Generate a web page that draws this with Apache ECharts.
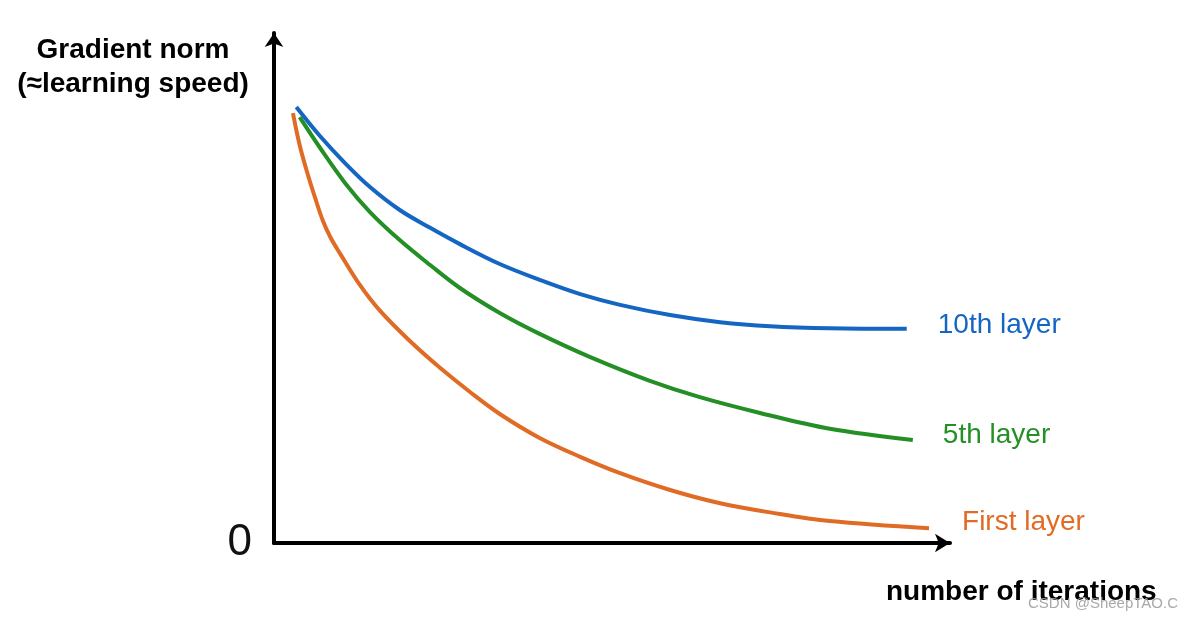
<!DOCTYPE html>
<html>
<head>
<meta charset="utf-8">
<script src="https://cdn.jsdelivr.net/npm/echarts@6/dist/echarts.min.js"></script>
<style>
html,body{margin:0;padding:0;background:#fff;}
#chart{width:1192px;height:622px;}
</style>
</head>
<body>
<div id="chart"></div>
<script>
// ---- data (arbitrary units 0..100) ----
var seriesNames = ['10th layer', '5th layer', 'First layer'];

var tenthX = [3.3, 6.8, 10.5, 14.2, 18.6, 23.1, 27.5, 33.4, 39.3, 45.3, 51.2, 58.6, 66.0, 73.4, 82.2, 93.6];
var tenthY = [85.5, 79.8, 74.5, 69.8, 65.3, 61.8, 58.6, 54.7, 51.6, 48.8, 46.7, 44.7, 43.3, 42.5, 42.1, 42.0];

var fifthX = [3.8, 6.8, 10.5, 14.2, 18.6, 23.1, 27.5, 33.4, 39.3, 46.7, 55.6, 63.0, 71.9, 82.2, 94.5];
var fifthY = [83.5, 77.5, 70.6, 64.9, 59.4, 54.5, 50.0, 45.1, 41.0, 36.5, 31.8, 28.6, 25.5, 22.4, 20.2];

var firstX = [2.8, 3.8, 4.9, 6.1, 7.2, 8.4, 9.8, 12.7, 15.7, 20.1, 24.6, 29.0, 33.4, 39.3, 45.3, 51.2, 58.6, 66.0, 73.4, 82.2, 96.9];
var firstY = [84.3, 78.0, 72.7, 67.6, 63.3, 59.8, 56.7, 50.6, 45.5, 39.6, 34.3, 29.6, 25.3, 20.6, 16.9, 13.7, 10.4, 7.8, 6.0, 4.3, 2.9];

var yTickLabels = ['0'];
var yAxisTitle = 'Gradient norm\n(\u2248learning speed)';
var xAxisTitle = 'number of iterations';
var watermark = 'CSDN @SheepTAO.C';

// ---- styles ----
var colors = ['#1565c2', '#238f25', '#e06b25'];
var FONT = '"Liberation Sans", Arial, Helvetica, sans-serif';

function pairs(xs, ys) {
  var out = [];
  for (var i = 0; i < xs.length; i++) out.push([xs[i], ys[i]]);
  return out;
}

function lineSeries(name, data, color, dist, lh) {
  return {
    name: name,
    type: 'line',
    data: data,
    smooth: 0.35,
    symbol: 'none',
    showSymbol: false,
    lineStyle: { color: color, width: 4 },
    itemStyle: { color: color },
    endLabel: {
      show: true,
      formatter: '{a}',
      distance: dist,
      color: color,
      fontSize: 28,
      fontFamily: FONT,
      fontWeight: 'normal',
      verticalAlign: 'bottom',
      lineHeight: lh
    },
    emphasis: { disabled: true },
    z: 3
  };
}

var chart = echarts.init(document.getElementById('chart'), null, { renderer: 'canvas' });

var option = {
  animation: false,
  backgroundColor: '#ffffff',
  grid: {
    left: 274, top: 33, width: 676, height: 510,
    containLabel: false,
    outerBoundsMode: 'none'
  },
  xAxis: {
    type: 'value',
    min: 0, max: 100,
    axisLine: {
      show: true,
      symbol: ['none', 'arrow'],
      symbolSize: [14, 15],
      symbolOffset: [0, 0],
      lineStyle: { color: '#000', width: 4 }
    },
    axisTick: { show: false },
    axisLabel: { show: false },
    splitLine: { show: false }
  },
  yAxis: {
    type: 'value',
    min: 0, max: 100, interval: 100,
    axisLine: {
      show: true,
      symbol: ['none', 'arrow'],
      symbolSize: [14, 14],
      symbolOffset: [0, 0],
      lineStyle: { color: '#000', width: 4 }
    },
    axisTick: { show: false },
    splitLine: { show: false },
    axisLabel: {
      show: true,
      margin: 22,
      fontSize: 44,
      fontFamily: FONT,
      color: '#111',
      padding: [10, 0, 0, 0],
      formatter: function (v) { return v === 0 ? yTickLabels[0] : ''; }
    }
  },
  series: [
    lineSeries(seriesNames[0], pairs(tenthX, tenthY), colors[0], 31, 8),
    lineSeries(seriesNames[1], pairs(fifthX, fifthY), colors[1], 30, 10),
    lineSeries(seriesNames[2], pairs(firstX, firstY), colors[2], 33, 12)
  ],
  graphic: [
    {
      type: 'text', x: 133, y: 33, z: 10,
      style: {
        text: yAxisTitle, fill: '#000', font: 'bold 28px ' + FONT,
        align: 'center', verticalAlign: 'top', lineHeight: 34
      }
    },
    {
      type: 'text', x: 886, y: 592, z: 10,
      style: {
        text: xAxisTitle, fill: '#000', font: 'bold 28px ' + FONT,
        align: 'left', verticalAlign: 'middle'
      }
    },
    {
      type: 'text', x: 1028, y: 604, z: 11,
      style: {
        text: watermark, fill: 'rgba(160,160,160,0.9)', font: '15px ' + FONT,
        align: 'left', verticalAlign: 'middle'
      }
    }
  ]
};

chart.setOption(option);
</script>
</body>
</html>
